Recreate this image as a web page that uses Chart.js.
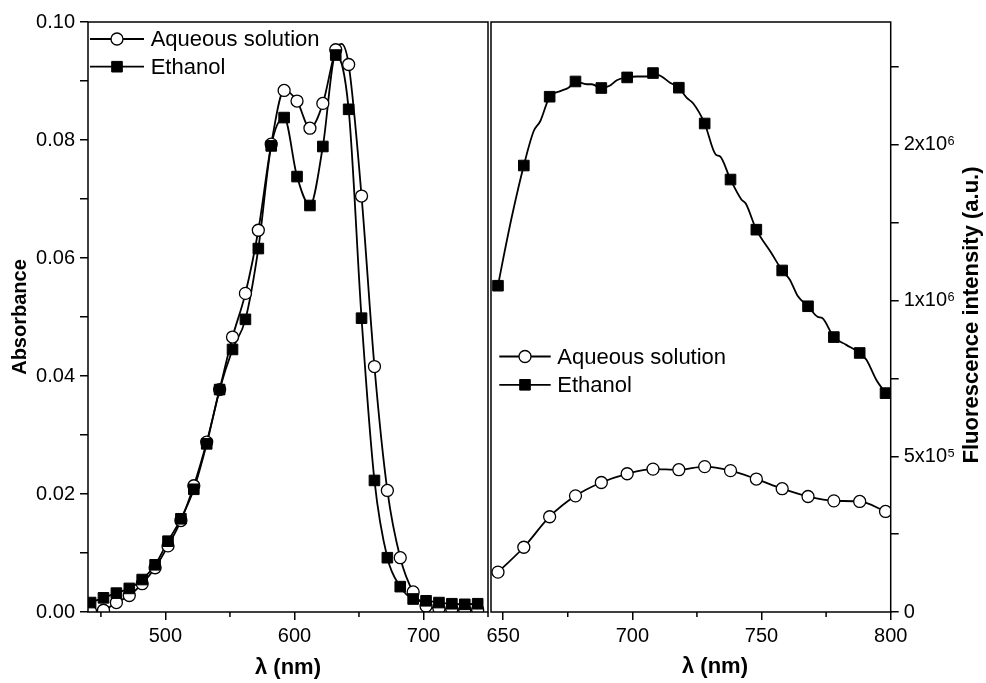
<!DOCTYPE html>
<html>
<head>
<meta charset="utf-8">
<title>Absorbance and fluorescence</title>
<script src="https://cdn.jsdelivr.net/npm/chart.js@4.4.1/dist/chart.umd.min.js"></script>
<style>
  html, body { margin: 0; padding: 0; background: #fff; }
  #wrap { position: relative; width: 986px; height: 683px; overflow: hidden; }
  #absChart { position: absolute; left: 0; top: 0; }
  #flChart { position: absolute; left: 460px; top: 0; }
</style>
</head>
<body>
<div id="wrap">
  <canvas id="absChart" width="489" height="683"></canvas>
  <canvas id="flChart" width="526" height="683"></canvas>
</div>
<script>
// ---------- left panel: absorbance ----------
const absWavelength = [442, 452, 462, 472, 482, 492, 502, 512, 522, 532, 542, 552, 562, 572, 582, 592, 602, 612, 622, 632, 642, 652, 662, 672, 682, 692, 702, 712, 722, 732, 742];
const absAqueous = [0.0001, 0.0003, 0.0016, 0.0028, 0.0048, 0.0075, 0.0112, 0.0155, 0.0214, 0.0288, 0.0377, 0.0466, 0.0540, 0.0647, 0.0793, 0.0884, 0.0866, 0.0820, 0.0862, 0.0953, 0.0928, 0.0705, 0.0416, 0.0206, 0.0092, 0.0034, 0.0010, 0.0006, 0.0005, 0.0004, 0.0004];
const absEthanol = [0.0016, 0.0024, 0.0032, 0.0040, 0.0055, 0.0080, 0.0120, 0.0158, 0.0208, 0.0285, 0.0377, 0.0445, 0.0496, 0.0616, 0.0790, 0.0838, 0.0738, 0.0689, 0.0789, 0.0944, 0.0852, 0.0498, 0.0223, 0.0092, 0.0043, 0.0022, 0.0019, 0.0016, 0.0014, 0.0013, 0.0014];
// curve points between markers (top of the aqueous band)
const absAqCurveWl = [636.4];
const absAqCurveVal = [0.0963];

const absXMajor = [500, 600, 700];
const absXMinor = [450, 550, 650, 750];
const absYTicks = [0, 0.01, 0.02, 0.03, 0.04, 0.05, 0.06, 0.07, 0.08, 0.09, 0.10];
const absYLabels = ['0.00', '', '0.02', '', '0.04', '', '0.06', '', '0.08', '', '0.10'];

// ---------- right panel: fluorescence ----------
const flWavelength = [648, 658, 668, 678, 688, 698, 708, 718, 728, 738, 748, 758, 768, 778, 788, 798];
const flAqueous = [128000, 208000, 306000, 373000, 416000, 444000, 459000, 457000, 467000, 454000, 427000, 396000, 371000, 357000, 355000, 323000];
const flEthanol = [1048000, 1434000, 1655000, 1704000, 1683000, 1717000, 1731000, 1684000, 1569000, 1389000, 1228000, 1097000, 982000, 883000, 832000, 703000];
// curve points between the ethanol markers (the small kinks of the trace)
const flEthCurveWl = [650.2, 653.4, 661.8, 664.4, 672.1, 675.3, 682.4, 684.3, 691.4, 694, 701.7, 705.6, 711.3, 714.6, 721, 723.6, 732.3, 733.9, 742.2, 743.9, 753.8, 760.9, 764.1, 771.8, 773.5, 782.8, 790.6, 794.4];
const flEthCurveVal = [1142000, 1271000, 1544000, 1577000, 1673000, 1684000, 1695000, 1695000, 1691000, 1708000, 1720000, 1720000, 1720000, 1700000, 1652000, 1633000, 1469000, 1464000, 1325000, 1312000, 1153000, 1068000, 1014000, 948000, 944000, 858000, 810000, 746000];

const flXMajor = [650, 700, 750, 800];
const flXMinor = [675, 725, 775];
const flYTicks = [0, 250000, 500000, 750000, 1000000, 1250000, 1500000, 1750000];
const flYLabels = ['0', '', '5x10\u2075', '', '1x10\u2076', '', '2x10\u2076', ''];

const seriesNames = ['Aqueous solution', 'Ethanol'];

const FONT = '"Liberation Sans", Arial, Helvetica, sans-serif';
Chart.defaults.font.family = FONT;
Chart.defaults.color = '#000';

function pts(xs, ys) {
  return xs.map((x, i) => ({ x: x, y: ys[i] }));
}
function mergePts(xs, ys, xs2, ys2) {
  return pts(xs, ys).concat(pts(xs2, ys2)).sort((a, b) => a.x - b.x);
}

function drawMarker(ctx, kind, x, y) {
  ctx.beginPath();
  if (kind === 'circle') {
    ctx.arc(x, y, 6, 0, Math.PI * 2);
    ctx.fillStyle = '#fff';
    ctx.fill();
    ctx.lineWidth = 1.3;
    ctx.stroke();
  } else {
    ctx.rect(x - 5.3, y - 5.3, 10.6, 10.6);
    ctx.fillStyle = '#000';
    ctx.fill();
    ctx.lineWidth = 1;
    ctx.stroke();
  }
}

// frame, short minor ticks, legend and the odd titles
const panelDeco = {
  id: 'panelDeco',
  afterDatasetsDraw(chart, args, opts) {
    const ctx = chart.ctx;
    const a = chart.chartArea;
    const xs = chart.scales.x;
    ctx.save();
    ctx.strokeStyle = '#000';
    ctx.fillStyle = '#000';
    ctx.lineWidth = 1.5;
    ctx.strokeRect(a.left, a.top, a.right - a.left, a.bottom - a.top);

    ctx.beginPath();
    opts.minorX.forEach(v => {
      const px = xs.getPixelForValue(v);
      ctx.moveTo(px, a.bottom);
      ctx.lineTo(px, a.bottom + 5);
    });
    ctx.stroke();

    // legend
    const lg = opts.legend;
    ctx.font = '22px ' + FONT;
    ctx.textBaseline = 'middle';
    ctx.textAlign = 'left';
    ['circle', 'rect'].forEach((kind, i) => {
      const y = a.top + lg.top + i * lg.gap;
      ctx.strokeStyle = '#000';
      ctx.lineWidth = 1.8;
      ctx.beginPath();
      ctx.moveTo(a.left + lg.lineFrom, y);
      ctx.lineTo(a.left + lg.lineTo, y);
      ctx.stroke();
      drawMarker(ctx, kind, a.left + (lg.lineFrom + lg.lineTo) / 2, y);
      ctx.fillStyle = '#000';
      ctx.fillText(seriesNames[i], a.left + lg.textX, y + 1);
    });

    // titles drawn by hand (offset x title, upward-reading right title)
    (opts.titles || []).forEach(t => {
      ctx.save();
      ctx.font = 'bold ' + t.size + 'px ' + FONT;
      ctx.textAlign = 'center';
      ctx.textBaseline = 'middle';
      ctx.fillStyle = '#000';
      ctx.translate(t.x, t.y);
      ctx.rotate(t.rot || 0);
      ctx.fillText(t.text, 0, 0);
      ctx.restore();
    });
    ctx.restore();
  }
};

function lineSet(data) {
  return {
    data: data, showLine: true, pointRadius: 0, borderColor: '#000', borderWidth: 1.8,
    cubicInterpolationMode: 'monotone', fill: false
  };
}
function markerSet(label, data, kind) {
  return {
    label: label, data: data, showLine: false, pointStyle: kind,
    pointRadius: kind === 'rect' ? 7.5 : 6,
    pointBorderWidth: kind === 'rect' ? 1 : 1.3,
    pointBackgroundColor: kind === 'rect' ? '#000' : '#fff',
    pointBorderColor: '#000'
  };
}

const tickGrid = { drawOnChartArea: false, drawTicks: true, tickLength: 8, color: '#000', lineWidth: 1.5 };

new Chart(document.getElementById('absChart'), {
  type: 'scatter',
  data: {
    datasets: [
      markerSet('Ethanol', pts(absWavelength, absEthanol), 'rect'),
      markerSet('Aqueous solution', pts(absWavelength, absAqueous), 'circle'),
      lineSet(pts(absWavelength, absEthanol)),
      lineSet(mergePts(absWavelength, absAqueous, absAqCurveWl, absAqCurveVal))
    ]
  },
  options: {
    responsive: false,
    animation: false,
    layout: { autoPadding: false, padding: { top: 22, right: 1, left: 0, bottom: 0 } },
    plugins: {
      legend: { display: false },
      tooltip: { enabled: false },
      panelDeco: {
        minorX: absXMinor,
        legend: { top: 17, gap: 27.7, lineFrom: 2, lineTo: 56, textX: 62.7 }
      }
    },
    scales: {
      x: {
        type: 'linear', min: 440, max: 750,
        afterBuildTicks: s => { s.ticks = absXMajor.map(v => ({ value: v })); },
        afterFit: s => { s.height = 71; },
        grid: tickGrid,
        border: { display: false },
        ticks: { font: { size: 20 }, color: '#000', padding: 4, maxRotation: 0, callback: v => String(v) },
        title: { display: true, text: 'λ (nm)', font: { size: 22, weight: 'bold' }, color: '#000', padding: { top: 0, bottom: 2 } }
      },
      y: {
        type: 'linear', min: 0, max: 0.1,
        afterBuildTicks: s => { s.ticks = absYTicks.map(v => ({ value: v })); },
        afterFit: s => { s.width = 88; },
        grid: tickGrid,
        border: { display: false },
        ticks: { font: { size: 20 }, color: '#000', padding: 5, callback: (v, i) => absYLabels[i] },
        title: { display: true, text: 'Absorbance', font: { size: 20, weight: 'bold' }, color: '#000', padding: { top: 8, bottom: 0 } }
      }
    }
  },
  plugins: [panelDeco]
});

new Chart(document.getElementById('flChart'), {
  type: 'scatter',
  data: {
    datasets: [
      markerSet('Ethanol', pts(flWavelength, flEthanol), 'rect'),
      markerSet('Aqueous solution', pts(flWavelength, flAqueous), 'circle'),
      lineSet(mergePts(flWavelength, flEthanol, flEthCurveWl, flEthCurveVal)),
      lineSet(pts(flWavelength, flAqueous))
    ]
  },
  options: {
    responsive: false,
    animation: false,
    layout: { autoPadding: false, padding: { top: 22, right: 0, left: 31, bottom: 0 } },
    plugins: {
      legend: { display: false },
      tooltip: { enabled: false },
      panelDeco: {
        minorX: flXMinor,
        legend: { top: 334.5, gap: 28.3, lineFrom: 8.3, lineTo: 59.7, textX: 66.3 },
        titles: [
          { text: 'λ (nm)', size: 22, x: 255, y: 667 },
          { text: 'Fluorescence intensity (a.u.)', size: 22, x: 512, y: 315, rot: -Math.PI / 2 }
        ]
      }
    },
    scales: {
      x: {
        type: 'linear', min: 645.3, max: 800,
        afterBuildTicks: s => { s.ticks = flXMajor.map(v => ({ value: v })); },
        afterFit: s => { s.height = 71; },
        grid: tickGrid,
        border: { display: false },
        ticks: { font: { size: 20 }, color: '#000', padding: 4, maxRotation: 0, callback: v => String(v) }
      },
      y: {
        type: 'linear', position: 'right', min: 0, max: 1895000,
        afterBuildTicks: s => { s.ticks = flYTicks.map(v => ({ value: v })); },
        afterFit: s => { s.width = 95.3; },
        grid: tickGrid,
        border: { display: false },
        ticks: { font: { size: 20 }, color: '#000', padding: 5, callback: (v, i) => flYLabels[i] }
      }
    }
  },
  plugins: [panelDeco]
});
</script>
</body>
</html>
